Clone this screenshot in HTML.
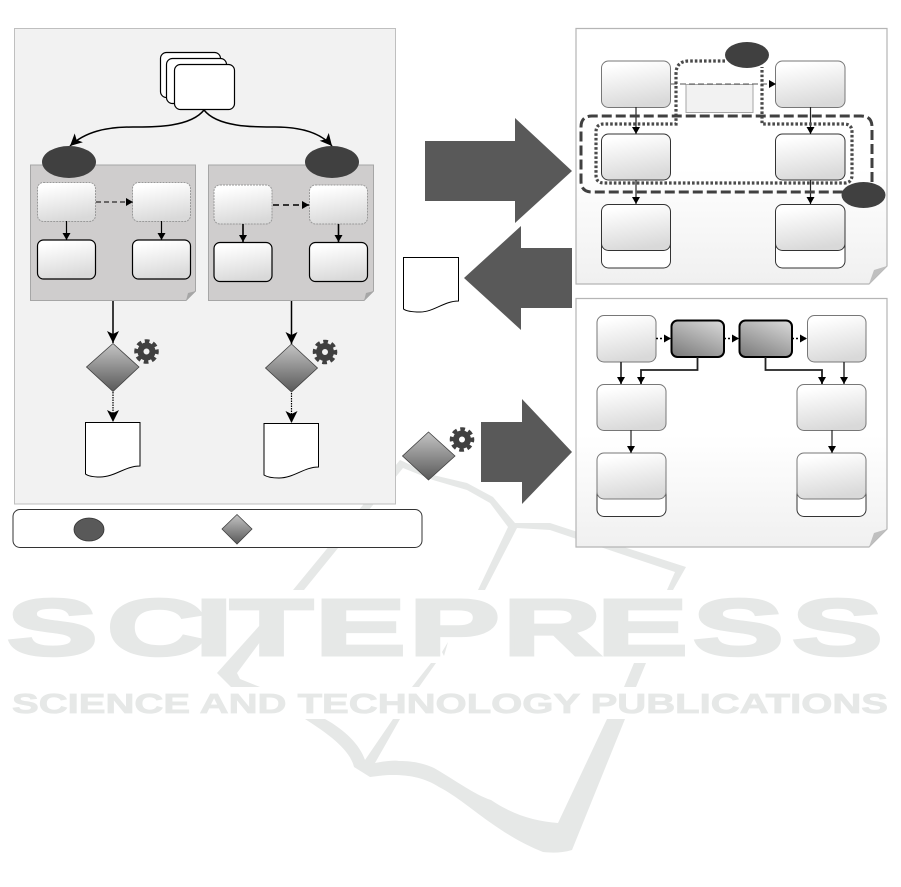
<!DOCTYPE html>
<html>
<head>
<meta charset="utf-8">
<style>
html,body{margin:0;padding:0;background:#fff;width:901px;height:887px;overflow:hidden}
svg{display:block}
.wm{fill:#e6e8e7;stroke:none}
.wt{font-family:"Liberation Sans",sans-serif;font-weight:bold;fill:#e6e8e7;stroke:#e6e8e7}
</style>
</head>
<body>
<svg width="901" height="887" viewBox="0 0 901 887" xmlns="http://www.w3.org/2000/svg">
<defs>
<linearGradient id="g" x1="0.15" y1="0" x2="0.4" y2="1"><stop offset="0.1" stop-color="#fff"/><stop offset="1" stop-color="#d9d9d9"/></linearGradient>
<linearGradient id="gd" x1="0.8" y1="0" x2="0.2" y2="1"><stop offset="0" stop-color="#d4d4d4"/><stop offset="1" stop-color="#7f7f7f"/></linearGradient>
<linearGradient id="gm" x1="0" y1="0" x2="0" y2="1"><stop offset="0" stop-color="#c4c4c4"/><stop offset="1" stop-color="#595959"/></linearGradient>
<linearGradient id="gp" x1="0" y1="0" x2="0" y2="1"><stop offset="0.55" stop-color="#fff"/><stop offset="1" stop-color="#f0f0f0"/></linearGradient>
<marker id="a" markerUnits="userSpaceOnUse" markerWidth="7" markerHeight="8" refX="7" refY="4" orient="auto"><path d="M0 0L7 4L0 8Z" fill="#000"/></marker>
<marker id="b" markerUnits="userSpaceOnUse" markerWidth="12" markerHeight="12" refX="12" refY="6" orient="auto"><path d="M0 0L12 6L0 12L3 6Z" fill="#000"/></marker>
<g id="gear"><circle r="6" fill="none" stroke="#404040" stroke-width="6"/><circle r="10.4" fill="none" stroke="#404040" stroke-width="3.8" stroke-dasharray="4.6 3.57" transform="rotate(-11)"/></g>
</defs>

<!-- watermark -->
<g>
<polygon class="wm" points="400,460 433,475 467,483 493,497 515,523 550,523 633,550 686,567 673,590 667,590 675,572 630,557 550,530 517,528 485,590 478,590 508,527 490,503 467,490 433,480 403,468 304,590 293,590"/>
<polygon class="wm" points="260,625 260,642 237,673 240,679 260,687 231,687 217,673"/>
<polygon class="wm" points="442,652 448,642 444,656"/>
<polygon class="wm" points="431,663 436,663 419,687 412,687"/>
<polygon class="wm" points="634,663 646,663 636,687 624,687"/>
<path class="wm" d="M305 719H325C345 730 360 745 365 760L393 719H400L375 763C385 761 395 760 399 761C415 761 425 764 434 768C455 780 475 795 491 800C515 816 535 821 558 823L607 719H625L572 850C562 853 552 853 543 852C525 845 508 835 491 823C475 812 455 795 439 787C425 778 410 775 393 775C385 775 378 776 370 777L354 767C350 750 330 735 305 719Z"/>
<text class="wt" font-size="80" stroke-width="3" transform="translate(0,655) scale(1.7,1)" x="4.1 62.9 114.7 135.3 185.3 240.6 295.9 351.2 407.6 465.9" y="0">SCITEPRESS</text>
<text class="wt" x="12" y="713" font-size="28" stroke-width="0.8" textLength="876" lengthAdjust="spacingAndGlyphs">SCIENCE AND TECHNOLOGY PUBLICATIONS</text>
</g>

<!-- left panel -->
<rect x="14.5" y="28.5" width="381" height="475.5" fill="#f2f2f2" stroke="#bfbfbf"/>
<rect x="160.5" y="52.5" width="60" height="45" rx="6" fill="#fff" stroke="#000" stroke-width="1.2"/>
<rect x="166.5" y="58.5" width="60" height="45" rx="6" fill="#fff" stroke="#000" stroke-width="1.2"/>
<rect x="174.5" y="64.5" width="60" height="45" rx="6" fill="#fff" stroke="#000" stroke-width="1.2"/>
<path d="M204 110C190 128 150 127 133 127C105 127 85 132 70 146" fill="none" stroke="#000" stroke-width="1.5" marker-end="url(#b)"/>
<path d="M204 110C218 128 258 127 275 127C300 127 320 132 332 146" fill="none" stroke="#000" stroke-width="1.5" marker-end="url(#b)"/>

<path d="M30.5 165H195.5V291L186 300.5H30.5Z" fill="#cfcdcd" stroke="#a6a6a6"/>
<path d="M186 301L196 291L188 293Z" fill="#a6a6a6"/>
<path d="M208.5 165H373.5V291L364 300.5H208.5Z" fill="#cfcdcd" stroke="#a6a6a6"/>
<path d="M364 301L374 291L366 293Z" fill="#a6a6a6"/>
<ellipse cx="69" cy="162" rx="27" ry="16" fill="#404040"/>
<ellipse cx="332" cy="162" rx="27" ry="16" fill="#404040"/>

<rect x="37.5" y="182.5" width="58" height="39" rx="6" fill="url(#g)" stroke="#999" stroke-dasharray="2 1"/>
<rect x="132.5" y="182.5" width="58" height="39" rx="6" fill="url(#g)" stroke="#999" stroke-dasharray="2 1"/>
<rect x="37.5" y="240" width="58" height="39" rx="6" fill="url(#g)" stroke="#000" stroke-width="1.2"/>
<rect x="132.5" y="240" width="58" height="39" rx="6" fill="url(#g)" stroke="#000" stroke-width="1.2"/>
<rect x="214" y="185" width="58" height="39" rx="6" fill="url(#g)" stroke="#999" stroke-dasharray="2 1"/>
<rect x="309.5" y="185" width="58" height="39" rx="6" fill="url(#g)" stroke="#999" stroke-dasharray="2 1"/>
<rect x="214" y="242.5" width="58" height="39" rx="6" fill="url(#g)" stroke="#000" stroke-width="1.2"/>
<rect x="309.5" y="242.5" width="58" height="39" rx="6" fill="url(#g)" stroke="#000" stroke-width="1.2"/>

<line x1="96" y1="202" x2="133" y2="202" stroke="#000" stroke-width="1" stroke-dasharray="5 3" marker-end="url(#a)"/>
<line x1="273" y1="205" x2="309" y2="205" stroke="#000" stroke-width="1.5" stroke-dasharray="6 4" marker-end="url(#a)"/>
<line x1="66.5" y1="221" x2="66.5" y2="240" stroke="#000" stroke-width="1.2" marker-end="url(#a)"/>
<line x1="161.5" y1="221" x2="161.5" y2="240" stroke="#000" stroke-width="1.2" marker-end="url(#a)"/>
<line x1="243" y1="224" x2="243" y2="242" stroke="#000" stroke-width="1.6" marker-end="url(#a)"/>
<line x1="338.5" y1="224" x2="338.5" y2="242" stroke="#000" stroke-width="1.6" marker-end="url(#a)"/>

<line x1="113" y1="301" x2="113" y2="343" stroke="#000" stroke-width="1.5" marker-end="url(#b)"/>
<line x1="291.5" y1="301" x2="291.5" y2="344" stroke="#000" stroke-width="1.5" marker-end="url(#b)"/>
<polygon points="113,343.5 139,367 113,391.5 86.5,367" fill="url(#gm)" stroke="#404040" stroke-width="0.8"/>
<polygon points="291.5,344 317.5,368 291.5,392 265.5,368" fill="url(#gm)" stroke="#404040" stroke-width="0.8"/>
<use href="#gear" x="146.5" y="351.5"/>
<use href="#gear" x="325" y="352"/>
<line x1="113" y1="392" x2="113" y2="422" stroke="#000" stroke-width="1.2" stroke-dasharray="1.5 1" marker-end="url(#b)"/>
<line x1="291.5" y1="393" x2="291.5" y2="423" stroke="#000" stroke-width="1.2" stroke-dasharray="1.5 1" marker-end="url(#b)"/>
<path d="M85.5 422.5H140V466C125 466 115 477 100 477C93 477 88 476 85.5 474Z" fill="#fff" stroke="#000"/>
<path d="M264 423.5H318.5V467C304 467 294 478 279 478C272 478 267 477 264 475Z" fill="#fff" stroke="#000"/>

<!-- legend -->
<rect x="13" y="509.5" width="409" height="38" rx="7" fill="#fff" stroke="#333"/>
<ellipse cx="89" cy="529.5" rx="15" ry="11.5" fill="#595959" stroke="#333" stroke-width="0.8"/>
<polygon points="237,514.5 252,529 237,544 222,529" fill="url(#gm)" stroke="#404040" stroke-width="0.8"/>

<!-- big arrows -->
<polygon points="425,141 515,141 515,118 572,171 515,223 515,201 425,201" fill="#595959"/>
<polygon points="572,248 521,248 521,226 464,278 521,330 521,308 572,308" fill="#595959"/>
<polygon points="481,422 522,422 522,399 572,452 522,504 522,482 481,482" fill="#595959"/>
<path d="M403.5 257.5H458.5V301C444 301 434 312 420 312C412 312 406 311 403.5 309Z" fill="#fff" stroke="#000"/>
<polygon points="428.5,432 455,456 428.5,480 402.5,456" fill="url(#gm)" stroke="#404040" stroke-width="0.8"/>
<use href="#gear" x="462" y="439.5"/>

<!-- right panel 1 -->
<path d="M576 28.5H887V266L869 284H576Z" fill="url(#gp)" stroke="#b5b5b5" stroke-width="1.2"/>
<path d="M869 284L887 266L874 270Z" fill="#bfbfbf"/>
<rect x="686" y="84.5" width="67" height="28" fill="#f2f2f2" stroke="#a6a6a6"/>
<rect x="601.5" y="61" width="69" height="46.5" rx="7" fill="url(#g)" stroke="#777"/>
<rect x="775.5" y="61" width="69.5" height="46.5" rx="7" fill="url(#g)" stroke="#777"/>
<rect x="601.5" y="134" width="69" height="46" rx="7" fill="url(#g)" stroke="#333"/>
<rect x="775.5" y="134" width="69.5" height="46" rx="7" fill="url(#g)" stroke="#333"/>
<rect x="601.5" y="218" width="69" height="50" rx="7" fill="#fff" stroke="#333"/>
<rect x="775.5" y="218" width="69.5" height="50" rx="7" fill="#fff" stroke="#333"/>
<rect x="601.5" y="204.5" width="69" height="46" rx="7" fill="url(#g)" stroke="#333"/>
<rect x="775.5" y="204.5" width="69.5" height="46" rx="7" fill="url(#g)" stroke="#333"/>
<line x1="671" y1="84" x2="776" y2="84" stroke="#555" stroke-dasharray="6 3" marker-end="url(#a)"/>
<line x1="636" y1="107" x2="636" y2="134" stroke="#222" stroke-width="1.2" marker-end="url(#a)"/>
<line x1="636" y1="180" x2="636" y2="204" stroke="#222" stroke-width="1.2" marker-end="url(#a)"/>
<line x1="810.5" y1="107" x2="810.5" y2="134" stroke="#222" stroke-width="1.2" marker-end="url(#a)"/>
<line x1="810.5" y1="180" x2="810.5" y2="204" stroke="#222" stroke-width="1.2" marker-end="url(#a)"/>
<path d="M725 61H689Q676 61 676 74V124H604Q596 124 596 132V175Q596 183 604 183H844Q852 183 852 175V132Q852 124 844 124H762V67" fill="none" stroke="#4a4a4a" stroke-width="3.2" stroke-dasharray="2.6 2"/>
<path d="M872 182V127Q872 116 861 116H592Q581 116 581 127V181Q581 192 592 192H843" fill="none" stroke="#404040" stroke-width="3" stroke-dasharray="10 4"/>
<ellipse cx="747" cy="55" rx="22" ry="13" fill="#404040"/>
<ellipse cx="863.5" cy="195" rx="22" ry="13" fill="#404040"/>

<!-- right panel 2 -->
<path d="M576 298.5H887V529L869 547H576Z" fill="url(#gp)" stroke="#b5b5b5" stroke-width="1.2"/>
<path d="M869 547L887 529L874 533Z" fill="#bfbfbf"/>
<rect x="597" y="315.5" width="59" height="46.5" rx="7" fill="url(#g)" stroke="#777"/>
<rect x="807.5" y="315.5" width="58.5" height="46.5" rx="7" fill="url(#g)" stroke="#777"/>
<rect x="671.5" y="320.5" width="52.5" height="36.5" rx="6" fill="url(#gd)" stroke="#000" stroke-width="2"/>
<rect x="739.5" y="320.5" width="52.5" height="36.5" rx="6" fill="url(#gd)" stroke="#000" stroke-width="2"/>
<rect x="597" y="384.5" width="69" height="46" rx="7" fill="url(#g)" stroke="#777"/>
<rect x="797" y="384.5" width="69" height="46" rx="7" fill="url(#g)" stroke="#777"/>
<rect x="597" y="467" width="69" height="49.5" rx="7" fill="#fff" stroke="#333"/>
<rect x="797" y="467" width="69" height="49.5" rx="7" fill="#fff" stroke="#333"/>
<rect x="597" y="453" width="69" height="46" rx="7" fill="url(#g)" stroke="#777"/>
<rect x="797" y="453" width="69" height="46" rx="7" fill="url(#g)" stroke="#777"/>
<line x1="656" y1="338.5" x2="671" y2="338.5" stroke="#000" stroke-width="1.5" stroke-dasharray="2 2" marker-end="url(#a)"/>
<line x1="724" y1="338.5" x2="739" y2="338.5" stroke="#000" stroke-width="1.5" stroke-dasharray="2 2" marker-end="url(#a)"/>
<line x1="792" y1="338.5" x2="807" y2="338.5" stroke="#000" stroke-width="1.5" stroke-dasharray="2 2" marker-end="url(#a)"/>
<line x1="621" y1="362" x2="621" y2="384" stroke="#222" stroke-width="1.6" marker-end="url(#a)"/>
<line x1="844" y1="362" x2="844" y2="384" stroke="#222" stroke-width="1.4" marker-end="url(#a)"/>
<path d="M697.5 357V370H641V384" fill="none" stroke="#222" stroke-width="1.8" marker-end="url(#a)"/>
<path d="M765.5 357V370H822V384" fill="none" stroke="#222" stroke-width="1.8" marker-end="url(#a)"/>
<line x1="631" y1="430" x2="631" y2="453" stroke="#222" stroke-width="1.2" marker-end="url(#a)"/>
<line x1="832" y1="430" x2="832" y2="453" stroke="#222" stroke-width="1.2" marker-end="url(#a)"/>
</svg>
</body>
</html>
